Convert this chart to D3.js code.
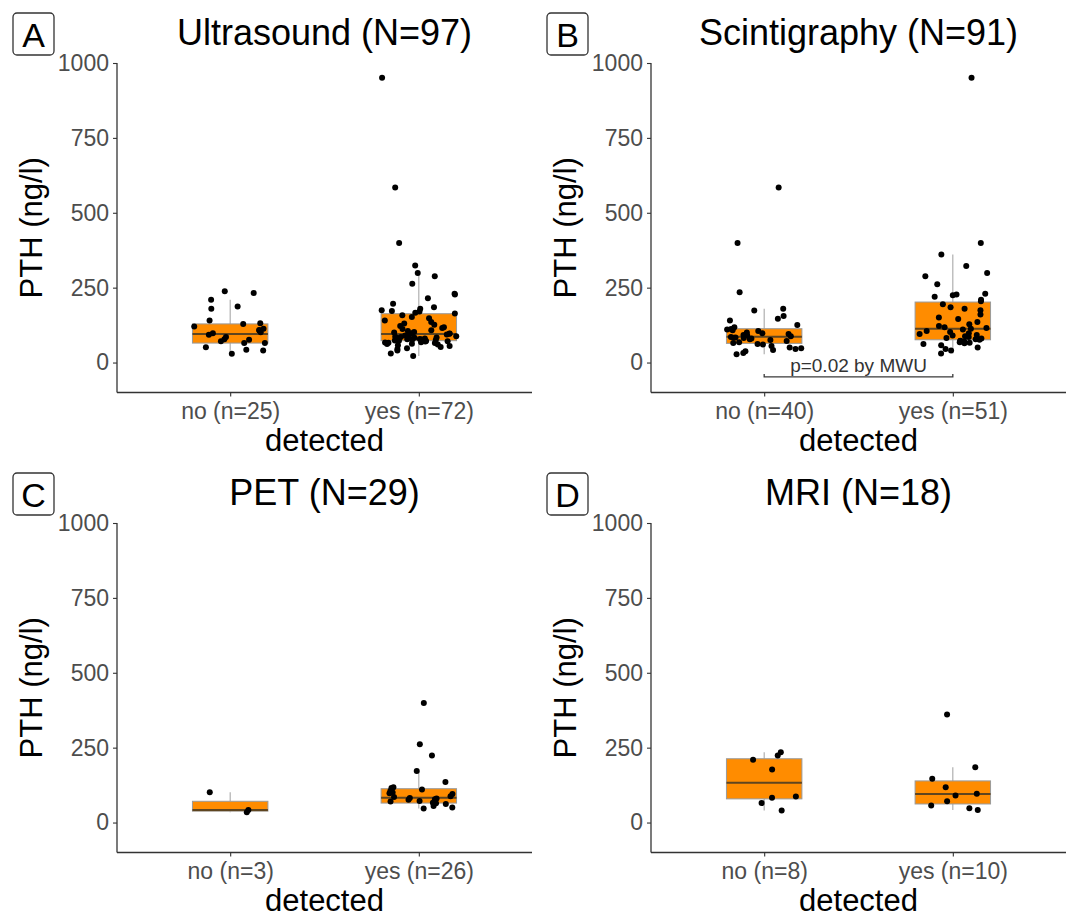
<!DOCTYPE html>
<html>
<head>
<meta charset="utf-8">
<script src="https://cdn.jsdelivr.net/npm/d3@7"></script>
<style>
  body { margin: 0; background: #fff; }
  svg text { font-family: "Liberation Sans", Arial, Helvetica, sans-serif; }
</style>
</head>
<body>
<svg id="chart" width="1068" height="919"></svg>
<script>
// ---- data ----
const panelTags = ['A', 'B', 'C', 'D'];
const panelTitles = ['Ultrasound (N=97)', 'Scintigraphy (N=91)', 'PET (N=29)', 'MRI (N=18)'];
const groupLabels = [
  ['no (n=25)', 'yes (n=72)'],
  ['no (n=40)', 'yes (n=51)'],
  ['no (n=3)', 'yes (n=26)'],
  ['no (n=8)', 'yes (n=10)']
];
const yTicks = [0, 250, 500, 750, 1000];
const yDomain = [-100, 1000];

const ultrasoundNo = [238, 232, 210, 187, 180, 140, 131, 129, 120, 113, 109, 107, 101, 98, 93, 85, 78, 76, 71, 65, 65, 51, 43, 40, 29];
const ultrasoundYes = [951, 584, 399, 324, 299, 288, 263, 230, 227, 215, 196, 185, 180, 175, 172, 170, 166, 164,
  158, 152, 148, 140, 135, 130, 126, 122, 118, 115, 112, 108, 105, 102, 100, 98, 97, 96,
  94, 92, 90, 89, 88, 86, 85, 84, 83, 82, 80, 79, 78, 77, 76, 75, 74, 73,
  72, 71, 70, 68, 67, 66, 65, 63, 62, 60, 58, 55, 52, 48, 45, 40, 30, 22];
const scintiNo = [584, 399, 235, 180, 174, 155, 146, 140, 125, 118,
  112, 110, 108, 105, 100, 98, 95, 92, 90, 88,
  85, 84, 83, 82, 80, 78, 75, 72, 68, 65,
  62, 60, 55, 50, 48, 45, 42, 38, 32, 28];
const scintiYes = [951, 399, 361, 322, 299, 288, 261, 230, 227, 225, 220, 210, 205,
  195, 185, 180, 175, 160, 150, 145, 135, 128, 122, 118, 115, 113,
  110, 105, 102, 98, 95, 92, 90, 88, 85, 82, 80, 78, 76,
  73, 72, 70, 68, 66, 64, 62, 58, 50, 45, 40, 30];
const petNo = [101, 42, 34];
const petYes = [399, 261, 224, 172, 135, 118, 115, 110, 105, 100, 98, 95, 88, 85, 82, 80, 78, 76, 72, 70, 66, 64, 62, 55, 50, 47];
const mriNo = [235, 224, 210, 177, 87, 83, 65, 40];
const mriYes = [361, 185, 146, 118, 96, 90, 71, 57, 48, 42];

// box stats: [lower whisker, q1, median, q3, upper whisker]
const ultrasoundNoBox = [29, 65, 95, 129, 210];
const ultrasoundYesBox = [22, 73, 95, 163, 299];
const scintiNoBox = [28, 64, 86, 113, 180];
const scintiYesBox = [30, 76, 113, 202, 361];
const petNoBox = [34, 38, 42, 71, 101];
const petYesBox = [47, 65, 83, 113, 172];
const mriNoBox = [40, 79, 133, 213, 235];
const mriYesBox = [42, 62, 95, 139, 185];

const pValueText = 'p=0.02 by MWU';
const pValueLevel = -48;

const panelValues = [
  [ultrasoundNo, ultrasoundYes],
  [scintiNo, scintiYes],
  [petNo, petYes],
  [mriNo, mriYes]
];
const panelBoxes = [
  [ultrasoundNoBox, ultrasoundYesBox],
  [scintiNoBox, scintiYesBox],
  [petNoBox, petYesBox],
  [mriNoBox, mriYesBox]
];

// ---- layout ----
const cellW = 534, cellH = 460;
const margin = { left: 117, right: 2, top: 63, bottom: 67.5 };
const plotW = cellW - margin.left - margin.right;   // 415
const plotH = cellH - margin.top - margin.bottom;   // 329.5

const fill = '#FF8C00';
const jitter = d3.randomUniform.source(d3.randomLcg(0.4217))(-0.2, 0.2);

const svg = d3.select('#chart');

panelTags.forEach((tag, i) => {
  const col = i % 2, row = Math.floor(i / 2);
  const cell = svg.append('g')
    .attr('transform', `translate(${col * cellW},${row * cellH})`);

  // tag box
  cell.append('rect')
    .attr('x', 13).attr('y', 13)
    .attr('width', 41).attr('height', 42)
    .attr('rx', 4)
    .attr('fill', 'none')
    .attr('stroke', '#333')
    .attr('stroke-width', 1.3);
  cell.append('text')
    .attr('x', 33.5).attr('y', 46.5)
    .attr('text-anchor', 'middle')
    .attr('font-size', 34)
    .attr('fill', '#000')
    .text(tag);

  const g = cell.append('g')
    .attr('transform', `translate(${margin.left},${margin.top})`);

  const x = d3.scaleLinear().domain([0.4, 2.6]).range([0, plotW]);
  const y = d3.scaleLinear().domain(yDomain).range([plotH, 0]);

  // title
  g.append('text')
    .attr('x', plotW / 2).attr('y', -18)
    .attr('text-anchor', 'middle')
    .attr('font-size', 36)
    .attr('fill', '#000')
    .text(panelTitles[i]);

  // axes
  const yAxis = g.append('g')
    .call(d3.axisLeft(y).tickValues(yTicks).tickSize(4).tickPadding(4).tickFormat(d3.format('d')));
  yAxis.select('.domain').attr('stroke', '#333').attr('stroke-width', 1.3);
  yAxis.selectAll('.tick line').attr('stroke', '#333').attr('stroke-width', 1.1);
  yAxis.selectAll('.tick text')
    .attr('font-size', 23)
    .attr('fill', '#4D4D4D')
    .attr('font-family', '"Liberation Sans", Arial, sans-serif');

  const xAxis = g.append('g')
    .attr('transform', `translate(0,${plotH})`)
    .call(d3.axisBottom(x).tickValues([1, 2]).tickSize(4).tickPadding(6)
      .tickFormat(d => groupLabels[i][d - 1]));
  xAxis.select('.domain').attr('stroke', '#333').attr('stroke-width', 1.3);
  xAxis.selectAll('.tick line').attr('stroke', '#333').attr('stroke-width', 1.1);
  xAxis.selectAll('.tick text')
    .attr('font-size', 23)
    .attr('fill', '#4D4D4D')
    .attr('font-family', '"Liberation Sans", Arial, sans-serif');
  // clean path ends (no outer ticks)
  yAxis.select('.domain').attr('d', `M0,${plotH}V0`);
  xAxis.select('.domain').attr('d', `M0,0H${plotW}`);

  // axis titles
  g.append('text')
    .attr('x', plotW / 2).attr('y', plotH + 58.5)
    .attr('text-anchor', 'middle')
    .attr('font-size', 31)
    .attr('fill', '#000')
    .text('detected');
  g.append('text')
    .attr('transform', `translate(${42 - margin.left},${plotH / 2}) rotate(-90)`)
    .attr('text-anchor', 'middle')
    .attr('font-size', 31)
    .attr('fill', '#000')
    .text('PTH (ng/l)');

  // boxplots
  const boxW = x(1.2) - x(0.8);
  panelBoxes[i].forEach((b, k) => {
    const cx = x(k + 1);
    const [lo, q1, med, q3, hi] = b;
    g.append('line')
      .attr('x1', cx).attr('x2', cx)
      .attr('y1', y(q3)).attr('y2', y(hi))
      .attr('stroke', '#A8A8A8').attr('stroke-width', 1.1);
    g.append('line')
      .attr('x1', cx).attr('x2', cx)
      .attr('y1', y(q1)).attr('y2', y(lo))
      .attr('stroke', '#A8A8A8').attr('stroke-width', 1.1);
    g.append('rect')
      .attr('x', cx - boxW / 2).attr('y', y(q3))
      .attr('width', boxW).attr('height', y(q1) - y(q3))
      .attr('fill', fill)
      .attr('stroke', '#9A9A9A').attr('stroke-width', 1);
    g.append('line')
      .attr('x1', cx - boxW / 2).attr('x2', cx + boxW / 2)
      .attr('y1', y(med)).attr('y2', y(med))
      .attr('stroke', '#5E4520').attr('stroke-width', 2);
  });

  // jittered points
  panelValues[i].forEach((vals, k) => {
    g.append('g').selectAll('circle')
      .data(vals)
      .enter()
      .append('circle')
      .attr('cx', () => x(k + 1 + jitter()))
      .attr('cy', d => y(d))
      .attr('r', 3)
      .attr('fill', '#000');
  });

  // significance bracket (Scintigraphy only)
  if (i === 1) {
    const by = y(pValueLevel);
    g.append('path')
      .attr('d', `M${x(1)},${by - 3}V${by}H${x(2)}V${by - 3}`)
      .attr('fill', 'none')
      .attr('stroke', '#3A3A3A')
      .attr('stroke-width', 1.3);
    g.append('text')
      .attr('x', (x(1) + x(2)) / 2).attr('y', by - 4.5)
      .attr('text-anchor', 'middle')
      .attr('font-size', 19)
      .attr('fill', '#333')
      .text(pValueText);
  }
});
</script>
</body>
</html>
